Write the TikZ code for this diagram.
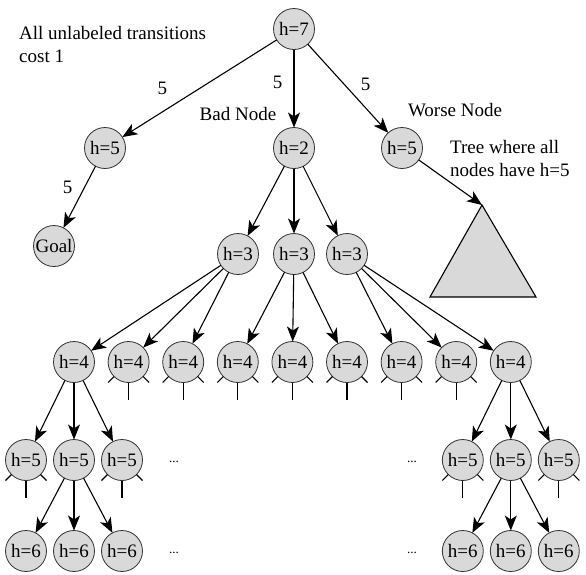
\documentclass[tikz,border=0pt]{standalone}
\usepackage{fontspec}
\setmainfont{Liberation Serif}
\usetikzlibrary{arrows.meta,positioning}

\begin{document}
\begin{tikzpicture}[
			x=1pt, y=-1pt,
			state/.style={
				circle,
				draw=black!80,
				line width=0.8pt,
				fill=black!15,
				minimum size=41pt,
				inner sep=0pt,
				outer sep=0pt,
				font=\fontsize{19}{23}\selectfont
			},
			note/.style={
				inner sep=0pt,
				align=left,
				font=\fontsize{19}{23.5}\selectfont
			},
			cost/.style={
				inner sep=0pt,
				font=\fontsize{19}{23}\selectfont
			},
			more/.style={
				inner sep=0pt,
				font=\fontsize{13}{13}\selectfont
			},
			arrow/.style={
				-{Stealth[length=15pt,width=12pt,inset=4pt]},
				line width=1.1pt,
				draw=black
			},
			stub/.style={
				line width=1.1pt,
				draw=black
			}
			]
			\useasboundingbox (0,0) rectangle (586,574);
			
			% oben
			\node[state] (r7) at (294,29) {h=7};
			\node[state, below=78pt of r7] (bad) {h=2};
			\node[state, left=148pt of bad] (a5) {h=5};
			\node[state, right=67pt of bad] (worse) {h=5};
			\node[state] (goal) at (54,246) {Goal};
			\coordinate (apex) at (482,205);
			\draw[line width=1.1pt, fill=black!15] (apex) -- (536,297) -- (430,297) -- cycle;
			
			% h=3
			\node[state, below=65pt of bad] (c2) {h=3};
			\node[state, left=15pt of c2] (c1) {h=3};
			\node[state, right=12pt of c2] (c3) {h=3};
			
			% h=4
			\node[state] (d1) at (74,362) {h=4};
			\node[state, right=13.6pt of d1] (d2) {h=4};
			\node[state, right=13.6pt of d2] (d3) {h=4};
			\node[state, right=13.6pt of d3] (d4) {h=4};
			\node[state, right=13.6pt of d4] (d5) {h=4};
			\node[state, right=13.6pt of d5] (d6) {h=4};
			\node[state, right=13.6pt of d6] (d7) {h=4};
			\node[state, right=13.6pt of d7] (d8) {h=4};
			\node[state, right=13.6pt of d8] (d9) {h=4};
			
			% h=5
			\node[state, below=57pt of d1] (e2) {h=5};
			\node[state, left=7pt of e2] (e1) {h=5};
			\node[state, right=7pt of e2] (e3) {h=5};
			\node[state, below=57pt of d9] (e5) {h=5};
			\node[state, left=7pt of e5] (e4) {h=5};
			\node[state, right=7pt of e5] (e6) {h=5};
			
			% h=6
			\node[state, below=50pt of e1] (f1) {h=6};
			\node[state, below=50pt of e2] (f2) {h=6};
			\node[state, below=50pt of e3] (f3) {h=6};
			\node[state, below=50pt of e4] (f4) {h=6};
			\node[state, below=50pt of e5] (f5) {h=6};
			\node[state, below=50pt of e6] (f6) {h=6};
			
			% Texte
			\node[note, anchor=north west] (hint) at (19,26) {All unlabeled transitions\\cost 1};
			\node[note, anchor=base] (badlbl) at (238,120) {Bad Node};
			\node[note, anchor=base] (worselbl) at (455,116) {Worse Node};
			\node[note, anchor=north west] (treelbl) at (450,140) {Tree where all\\nodes have h=5};
			\node[more, anchor=base] (dotsa) at (174,462) {...};
			\node[more, anchor=base] (dotsb) at (412,462) {...};
			\node[more, anchor=base] (dotsc) at (174,553) {...};
			\node[more, anchor=base] (dotsd) at (412,553) {...};
			
			% Pfeile
			\draw[arrow] (r7) -- node[cost, pos=0.74, above=16.5pt] {5} (a5);
			\draw[arrow] (r7) -- node[cost, pos=0.42, left=11pt] {5} (bad);
			\draw[arrow] (r7) -- node[cost, pos=0.72, above=17pt] {5} (worse);
			\draw[arrow] (a5) -- node[cost, pos=0.35, left=11.5pt] {5} (goal);
			\draw[arrow] (worse) -- (apex);
			\foreach \a/\b in {bad/c1, bad/c2, bad/c3,
				c1/d1, c1/d2, c1/d3, c2/d4, c2/d5, c2/d6, c3/d7, c3/d8, c3/d9,
				d1/e1, d1/e2, d1/e3, d9/e4, d9/e5, d9/e6,
				e2/f1, e2/f2, e2/f3, e5/f4, e5/f5, e5/f6}
				\draw[arrow] (\a) -- (\b);
			
			% offene Enden
			\foreach \n in {d2,d3,d4,d5,d6,d7,d8,e1,e3,e4,e6} {
				\draw[stub] (\n.south west) -- ++(-6,6);
				\draw[stub] (\n.south) -- ++(0,17);
				\draw[stub] (\n.south east) -- ++(6,6);
			}
		\end{tikzpicture}
\end{document}
